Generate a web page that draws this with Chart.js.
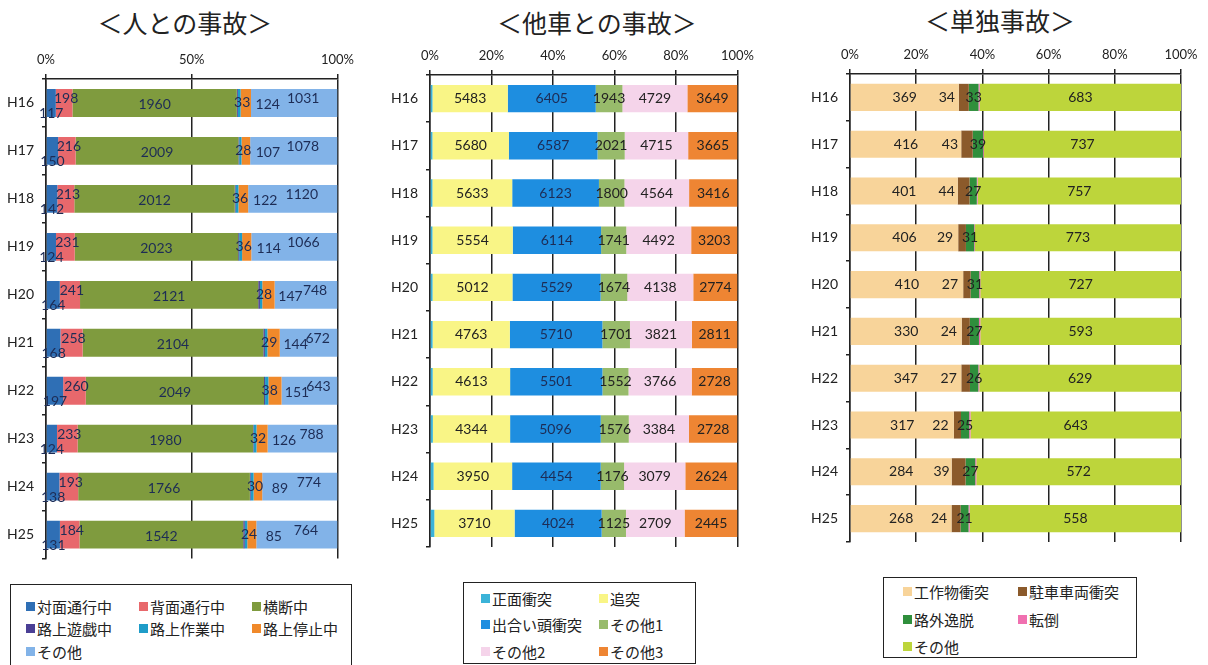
<!DOCTYPE html>
<html>
<head>
<meta charset="utf-8">
<script src="https://cdn.jsdelivr.net/npm/chart.js@4.4.1/dist/chart.umd.min.js"></script>
<style>
body{margin:0;background:#fff;width:1208px;height:665px;overflow:hidden;position:relative;font-family:"Noto Sans CJK JP",sans-serif;}
.ttl{position:absolute;font-size:25px;color:#222;white-space:nowrap;transform:translateX(-50%);line-height:30px;}
canvas{position:absolute;top:0;}
.lg{position:absolute;border:1.5px solid #222;box-sizing:border-box;background:#fff;display:grid;font-size:15px;color:#222;}
.lg div{display:flex;align-items:center;white-space:nowrap;}
.lg span.m{display:inline-block;width:9px;height:9px;margin-right:2px;}
</style>
</head>
<body>
<div class="ttl" style="left:185px;top:7px">＜人との事故＞</div>
<div class="ttl" style="left:597px;top:7px">＜他車との事故＞</div>
<div class="ttl" style="left:1000px;top:5px">＜単独事故＞</div>
<canvas id="c1" width="360" height="575" style="left:0"></canvas>
<canvas id="c2" width="380" height="575" style="left:380px"></canvas>
<canvas id="c3" width="408" height="575" style="left:800px"></canvas>
<div id="lg1" class="lg" style="left:10px;top:584px;width:342px;height:92px;grid-template-columns:113px 113px 113px;grid-auto-rows:22.5px;padding:10px 0 0 15px"></div>
<div id="lg2" class="lg" style="left:463px;top:582px;width:233px;height:82px;grid-template-columns:118px 110px;grid-auto-rows:26.5px;padding:2px 0 0 17px"></div>
<div id="lg3" class="lg" style="left:883px;top:577px;width:254px;height:81px;grid-template-columns:115px 130px;grid-auto-rows:27.5px;padding:0 0 0 19px"></div>
<script>
const years = ['H16','H17','H18','H19','H20','H21','H22','H23','H24','H25'];

// 人との事故
const taimen = [117,150,142,124,164,168,197,124,138,131];
const haimen = [198,216,213,231,241,258,260,233,193,184];
const oudan = [1960,2009,2012,2023,2121,2104,2049,1980,1766,1542];
const yuugi = [12,10,10,12,20,18,12,6,8,14];
const sagyou = [33,28,36,36,28,29,38,32,30,24];
const teishi = [124,107,122,114,147,144,151,126,89,85];
const hitoSonota = [1031,1078,1120,1066,748,672,643,788,774,764];

// 他車との事故
const shoumen = [180,180,170,170,160,160,160,160,180,200];
const tsuitotsu = [5483,5680,5633,5554,5012,4763,4613,4344,3950,3710];
const deai = [6405,6587,6123,6114,5529,5710,5501,5096,4454,4024];
const sonota1 = [1943,2021,1800,1741,1674,1701,1552,1576,1176,1125];
const sonota2 = [4729,4715,4564,4492,4138,3821,3766,3384,3079,2709];
const sonota3 = [3649,3665,3416,3203,2774,2811,2728,2728,2624,2445];

// 単独事故
const kousaku = [369,416,401,406,410,330,347,317,284,268];
const chusha = [34,43,44,29,27,24,27,22,39,24];
const rogai = [33,39,27,31,31,27,26,25,27,21];
const tentou = [4,3,3,3,4,4,3,4,3,3];
const tandokuSonota = [683,737,757,773,727,593,629,643,572,558];

const ticks1 = [0,50,100];
const ticks23 = [0,20,40,60,80,100];

const segLabels = {
    id: 'segLabels',
    afterDatasetsDraw(chart){
        let ctx = chart.ctx;
        chart.data.datasets.forEach(function(ds, i){
            if(!ds.showLabel) return;
            let meta = chart.getDatasetMeta(i);
            meta.data.forEach(function(bar, j){
                let cx = (bar.x + bar.base)/2 + (ds.labelDx || 0);
                let cy = bar.y + (ds.labelDy || 0);
                ctx.save();
                ctx.font = '14px Lato, "Noto Sans", sans-serif';
                ctx.fillStyle = ds.labelColor || '#222';
                ctx.textAlign = 'center';
                ctx.textBaseline = 'middle';
                ctx.fillText(ds.raw[j], cx, cy);
                ctx.restore();
            });
        });
    }
};

function crearGrafica(id, series, tickVals, pad, yWidth, xHeight){
    let totals = years.map(function(y, j){
        return series.reduce(function(s, d){ return s + d.values[j]; }, 0);
    });
    let datasets = series.map(function(d){
        return {
            label: d.label,
            data: d.values.map(function(v, j){ return v / totals[j] * 100; }),
            raw: d.values,
            backgroundColor: d.color,
            borderWidth: 0,
            showLabel: d.showLabel,
            labelDx: d.dx, labelDy: d.dy, labelColor: d.labelColor,
            barPercentage: 0.58,
            categoryPercentage: 1
        };
    });
    return new Chart(document.getElementById(id), {
        type: 'bar',
        data: { labels: years, datasets: datasets },
        options: {
            indexAxis: 'y',
            responsive: false,
            animation: false,
            layout: { padding: pad },
            plugins: { legend: { display: false }, tooltip: { enabled: false } },
            scales: {
                x: {
                    position: 'top',
                    stacked: true,
                    min: 0, max: 100,
                    afterBuildTicks: function(s){ s.ticks = tickVals.map(function(v){ return {value: v}; }); },
                    afterFit: function(s){ s.height = xHeight; },
                    ticks: {
                        callback: function(v){ return v + '%'; },
                        font: { family: 'Lato', size: 13 },
                        color: '#222',
                        padding: 6,
                        maxRotation: 0
                    },
                    grid: { color: '#222', lineWidth: 1.5, tickLength: 5 },
                    border: { color: '#222', width: 1.5 }
                },
                y: {
                    stacked: true,
                    afterFit: function(s){ s.width = yWidth; },
                    ticks: { font: { family: 'Lato', size: 14 }, color: '#222', padding: 8 },
                    grid: { drawOnChartArea: false, color: '#222', tickLength: 4, lineWidth: 1.5 },
                    border: { color: '#222', width: 1.5 }
                }
            }
        },
        plugins: [segLabels]
    });
}

const hitoSeries = [
    {label:'対面通行中', values:taimen, color:'#2f6fb5', showLabel:true, dy:11, labelColor:'#1d2c55'},
    {label:'背面通行中', values:haimen, color:'#e8686c', showLabel:true, dx:2, dy:-4, labelColor:'#1d2c55'},
    {label:'横断中', values:oudan, color:'#7f9b3e', showLabel:true, dy:2, labelColor:'#1d2c55'},
    {label:'路上遊戯中', values:yuugi, color:'#4a3f95'},
    {label:'路上作業中', values:sagyou, color:'#1e9cc8', showLabel:true, dx:3, labelColor:'#1d2c55'},
    {label:'路上停止中', values:teishi, color:'#f0892a', showLabel:true, dx:22, dy:2, labelColor:'#1d2c55'},
    {label:'その他', values:hitoSonota, color:'#82b3e8', showLabel:true, dx:9, dy:-4, labelColor:'#1d2c55'}
];
const tashaSeries = [
    {label:'正面衝突', values:shoumen, color:'#3bb3d8'},
    {label:'追突', values:tsuitotsu, color:'#f9f586', showLabel:true},
    {label:'出合い頭衝突', values:deai, color:'#1e8ee0', showLabel:true, labelColor:'#1d2c55'},
    {label:'その他1', values:sonota1, color:'#98bb6b', showLabel:true},
    {label:'その他2', values:sonota2, color:'#f5d4ea', showLabel:true},
    {label:'その他3', values:sonota3, color:'#ee8533', showLabel:true}
];
const tandokuSeries = [
    {label:'工作物衝突', values:kousaku, color:'#f8d49a', showLabel:true},
    {label:'駐車車両衝突', values:chusha, color:'#8b5a2b', showLabel:true, dx:-17},
    {label:'路外逸脱', values:rogai, color:'#2f8f3c', showLabel:true},
    {label:'転倒', values:tentou, color:'#f070b0'},
    {label:'その他', values:tandokuSonota, color:'#bdd53b', showLabel:true}
];

crearGrafica('c1', hitoSeries, ticks1, {left:0, right:19, top:0, bottom:11}, 46, 79);
crearGrafica('c2', tashaSeries, ticks23, {left:0, right:16, top:0, bottom:28}, 50, 75);
crearGrafica('c3', tandokuSeries, ticks23, {left:0, right:27, top:0, bottom:33}, 50, 74);

function fillLeyenda(id, series){
    let cadena = '';
    for(var i = 0; i < series.length; i++){
        cadena += '<div><span class="m" style="background:' + series[i].color + '"></span>' + series[i].label + '</div>';
    }
    document.getElementById(id).innerHTML = cadena;
}
fillLeyenda('lg1', hitoSeries);
fillLeyenda('lg2', tashaSeries);
fillLeyenda('lg3', tandokuSeries);
</script>
</body>
</html>
